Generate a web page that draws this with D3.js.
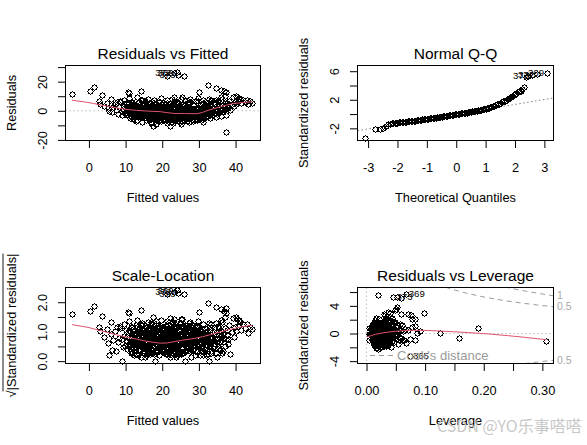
<!DOCTYPE html>
<html><head><meta charset="utf-8">
<script src="https://cdn.jsdelivr.net/npm/d3@7"></script>
<style>
body{margin:0;background:#fff}
svg{display:block;font-family:"Liberation Sans",Arial,sans-serif}
</style>
</head><body>
<svg id="c" width="587" height="445"></svg>
<script>
// ---------------- data ----------------
const sigma = 4.745;   // residual standard error of the model

const fitted = [
 23.9,23.3,24.4,26.0,21.2,37.4,-4.6,0.4,1.5,3.5,
 2.8,3.1,6.1,10.7,10.8,14.3,29.9,32.5,34.6,35.9,
 36.8,37.3,23.1,25.3,27.7,17.5,22.0,25.2,18.4,26.2,
 32.0,21.3,14.8,16.9,27.2,30.6,12.2,19.6,
 4.2,4.8,5.3,5.9,6.3,6.6,7.0,7.4,7.8,8.1,8.5,8.9,9.2,9.5,9.8,5.5,7.6,9.0,
 10.1,10.3,10.5,10.6,10.9,11.1,11.2,11.4,11.5,11.7,11.8,12.0,12.1,12.3,12.4,12.6,12.7,12.9,13.0,13.1,
 13.3,13.4,13.5,13.6,13.8,13.9,14.0,14.1,14.3,14.4,14.5,14.6,14.7,14.8,14.9,10.4,11.0,11.9,12.5,13.2,
 13.7,14.2,12.8,11.3,10.7,14.9,
 15.0,15.1,15.2,15.3,15.4,15.5,15.6,15.7,15.8,15.9,16.0,16.1,16.2,16.3,16.4,16.5,16.6,16.7,16.8,16.9,
 17.0,17.1,17.2,17.3,17.4,17.5,17.6,17.7,17.8,17.9,18.0,18.1,18.2,18.3,18.4,18.5,18.6,18.7,18.8,18.9,
 19.0,19.1,19.2,19.3,19.4,19.5,19.6,19.7,19.8,19.9,15.4,16.1,16.6,17.3,17.9,18.6,19.2,19.8,15.8,18.1,
 20.0,20.1,20.2,20.3,20.4,20.5,20.6,20.7,20.8,20.9,21.0,21.1,21.2,21.3,21.4,21.5,21.6,21.7,21.8,21.9,
 22.0,22.1,22.2,22.3,22.4,22.5,22.6,22.7,22.8,22.9,23.0,23.1,23.2,23.3,23.4,23.5,23.6,23.7,23.8,23.9,
 24.0,24.1,24.2,24.3,24.4,24.5,24.6,24.7,24.8,24.9,20.2,21.0,21.6,22.4,23.1,23.8,24.5,20.8,22.9,24.2,
 25.0,25.1,25.3,25.4,25.5,25.6,25.8,25.9,26.0,26.2,26.3,26.4,26.6,26.7,26.8,27.0,27.1,27.2,27.4,27.5,
 27.6,27.8,27.9,28.0,28.1,28.3,28.4,28.5,28.7,28.8,28.9,29.0,29.2,29.3,29.4,29.6,29.7,29.8,29.9,
 25.7,26.9,27.7,28.6,29.5,26.1,
 30.0,30.1,30.2,30.3,30.4,30.5,30.7,30.8,30.9,31.0,31.2,31.3,31.4,31.6,31.7,31.8,32.0,32.1,32.2,32.4,
 32.6,32.7,32.9,33.0,33.2,33.3,33.5,33.7,33.9,34.1,34.3,34.5,34.7,34.9,31.5,
 35.1,35.3,35.5,35.7,35.9,36.1,36.3,36.5,36.7,37.0,37.2,37.5,37.7,38.0,38.3,38.6,38.9,39.2,39.5,39.8,
 40.2,40.5,40.8,41.0,
 40.0,40.6,41.3,41.6,42.0,42.5,43.0,43.3,43.8,44.6,
 16.0,26.5,
 11.05,11.25,11.45,11.65,11.85,12.05,12.25,12.45,12.65,12.85,13.05,13.25,13.45,13.65,13.85,14.05,14.25,14.45,14.65,14.85,
 11.55,12.15,12.95,13.55,14.35,
 15.05,15.15,15.25,15.35,15.45,15.55,15.65,15.75,15.85,15.95,16.05,16.15,16.25,16.35,16.45,16.55,16.65,16.75,16.85,16.95,
 17.05,17.15,17.25,17.35,17.45,17.55,17.65,17.75,17.85,17.95,18.25,18.55,18.85,19.05,19.25,19.45,19.65,19.85,18.45,19.95,
 20.05,20.15,20.25,20.35,20.45,20.55,20.65,20.75,20.85,20.95,21.05,21.15,21.25,21.35,21.45,21.55,21.65,21.75,21.85,21.95,
 22.05,22.15,22.25,22.35,22.45,22.55,22.65,22.75,22.85,22.95,23.05,23.25,23.45,23.65,23.85,24.05,24.25,24.45,24.65,24.85,
 20.6,21.9,23.3,23.9,24.7,
 25.05,25.25,25.45,25.65,25.85,26.05,26.25,26.45,26.65,26.85,27.05,27.25,27.45,27.65,27.85,28.05,28.25,28.45,28.65,28.85,
 29.05,29.25,29.45,29.65,29.85,25.35,25.95,26.55,27.15,27.75,28.35,28.95,29.55,26.75,27.35,
 30.05,30.25,30.45,30.65,30.85,31.05,31.25,31.45,31.65,31.85,32.05,32.25,32.45,32.65,32.85,33.05,33.35,33.65,33.95,34.25,
 34.55,34.85,30.35,31.95,33.15,
 35.2,35.4,35.6,35.8,36.0,36.4,36.8,37.1,37.6,37.9,
 8.4,9.6,10.2,11.0,11.6,12.4,13.0,13.6,14.2,14.8,15.4,16.0,16.6,17.2,17.8,18.4,19.0,19.6,20.2,20.8,
 21.4,22.0,22.6,23.2,23.8,24.4,25.0,25.6,26.2,26.8,27.4,28.0,28.6,29.2,29.8,30.4,31.0,31.6,32.2,32.8,
 33.4,34.0,34.6,35.2,36.0,
 12.8,14.6,16.4,17.0,18.8,19.4,21.2,22.4,23.6,24.8,26.0,27.2,28.4,29.6,31.2
];

const residuals = [
 26.5,26.0,24.6,23.8,24.2,-14.8,11.8,13.4,16.5,10.8,
 6.4,5.0,8.0,12.9,12.4,13.6,13.0,18.0,15.9,14.5,
 13.6,12.6,9.5,9.3,8.4,-10.4,-10.2,-9.4,0.4,-2.8,
 3.3,-4.0,-3.6,-4.5,4.5,4.8,0.5,1.8,
 3.1,5.6,1.8,3.9,-0.7,2.4,4.9,0.6,-1.9,2.8,5.8,-2.6,1.1,3.5,-1.2,-0.2,6.3,0.0,
 2.2,-3.1,0.8,4.6,-1.5,1.9,-4.8,3.3,-0.4,6.1,-2.3,0.9,-5.6,2.7,-1.0,4.1,-3.4,0.3,1.6,-6.4,
 3.0,-2.0,5.2,-0.8,1.2,-4.1,2.4,-1.6,0.1,3.8,-3.0,7.2,-0.5,1.8,-5.2,-2.2,5.3,-1.7,1.1,-2.8,
 0.6,-2.6,2.1,-0.9,1.4,4.6,
 0.9,-3.4,2.6,-1.1,4.4,-6.1,0.2,-2.2,1.5,-0.6,3.3,-4.4,-1.4,0.7,5.6,-2.9,1.9,-0.3,-7.6,2.3,
 -1.8,0.4,3.7,-3.9,-0.9,1.2,-5.0,2.9,-1.5,0.0,4.8,-2.6,1.6,-0.7,-8.8,2.1,-3.2,0.5,6.4,-1.9,
 1.0,-4.7,-0.2,3.1,-2.4,0.8,-6.8,1.7,-1.2,4.0,-0.1,1.1,-5.3,2.4,-2.9,3.4,-3.6,2.6,-2.7,-5.7,
 -0.8,2.3,-3.3,0.5,-5.9,1.4,-1.7,3.9,-2.8,-0.3,1.8,-4.6,-1.1,5.4,-2.3,0.2,-7.2,1.0,-3.7,2.7,
 -1.4,-0.1,-5.1,3.4,-2.1,0.7,-3.0,1.9,-8.1,-0.6,4.3,-2.5,0.9,-4.2,-1.3,2.2,-6.3,0.1,-2.9,6.2,
 -1.0,1.3,-3.5,-0.4,2.8,-5.4,-1.8,0.6,3.6,-2.7,1.0,-6.6,3.0,-0.9,5.9,-4.8,0.3,-2.0,-3.8,1.9,
 -0.9,-4.3,1.7,-2.2,-6.7,0.4,-3.1,3.2,-1.5,-5.0,0.0,-2.6,2.5,-7.0,-1.2,-3.8,1.1,-2.0,5.1,-4.9,
 -0.6,-2.9,1.8,-5.8,-1.7,0.8,-3.4,3.9,-2.4,-6.2,-0.2,-3.9,2.0,-1.9,-5.4,0.6,-2.8,6.6,-4.0,
 -1.0,0.9,-3.3,-0.9,-1.4,7.2,
 -1.3,1.6,-4.4,-0.2,2.9,-2.5,-6.0,0.5,4.2,-3.1,-0.9,1.9,-4.9,0.8,-2.0,5.6,-1.1,2.4,-3.6,0.3,
 3.5,-2.3,1.2,-5.2,7.4,-0.4,2.1,-2.8,0.9,4.7,-1.6,2.6,-4.0,0.1,-0.5,
 3.0,-1.8,5.9,0.7,-3.5,2.3,8.2,-0.6,4.1,1.2,10.5,-2.7,5.3,2.5,7.0,0.3,4.6,9.8,3.1,6.2,
 10.2,9.6,9.1,8.5,
 4.8,6.9,8.0,5.2,7.3,6.1,7.3,4.4,6.5,5.4,
 -1.0,1.3,
 -1.2,1.5,-3.6,0.4,2.8,-2.1,-0.2,3.6,-4.3,1.0,-1.9,0.2,-3.0,2.2,-0.7,1.3,-4.6,-1.4,0.9,-2.4,
 -0.6,3.1,-1.1,1.7,-3.3,
 -2.0,0.6,-4.0,1.8,-0.9,-2.8,2.9,-1.3,0.3,-3.7,-0.5,2.0,-2.5,-5.4,0.9,-1.6,3.4,-3.1,-0.4,1.3,
 -2.2,-4.2,0.6,-1.0,2.5,-3.0,-0.3,1.4,-2.0,-4.5,-1.1,0.7,-2.9,-1.5,2.0,-3.9,-0.7,1.2,-6.0,-2.2,
 -2.4,-0.6,1.2,-3.9,-1.5,0.6,-4.4,-2.1,1.5,-3.1,-0.4,-2.6,0.8,-5.0,-1.7,2.1,-3.3,-0.9,-2.4,0.4,
 -4.0,-1.9,1.1,-3.6,-0.3,-2.7,-5.7,0.2,-1.6,-3.4,-0.8,-2.2,1.6,-4.0,-1.2,-2.9,0.3,-3.8,-1.5,-4.9,
 3.0,-6.0,-2.3,-0.2,2.3,
 -2.5,-0.3,-3.6,-1.8,0.6,-4.1,-2.3,-0.6,-3.4,1.2,-2.6,-5.1,-1.0,-3.0,-0.1,-2.2,-4.4,-1.3,0.9,-3.2,
 -1.9,-4.7,-0.5,-2.7,-1.2,-3.9,1.9,-5.9,-3.5,-1.4,-2.1,-4.6,-3.7,-2.0,-0.7,
 -2.6,-0.5,-3.8,1.1,-1.7,-4.3,0.2,-2.3,-0.8,-3.3,1.5,-1.4,-3.9,0.0,-2.0,1.8,-0.6,-3.1,2.2,-1.2,
 0.4,-2.3,-4.8,-0.2,3.0,
 0.8,3.7,-1.0,2.0,4.9,0.4,2.9,6.0,3.8,1.6,
 6.8,7.5,5.4,8.6,6.2,4.9,9.3,5.8,7.1,5.0,6.6,8.1,4.6,5.9,7.7,4.8,6.3,9.0,5.2,4.4,
 7.4,5.6,8.4,4.7,6.0,5.3,7.9,4.5,6.9,5.1,5.7,7.0,4.3,6.5,8.8,5.5,7.2,6.1,4.9,8.0,
 6.4,5.8,7.6,6.7,9.2,
 -6.9,-7.8,-6.5,-8.3,-7.1,-6.2,-8.6,-7.4,-6.8,-7.9,-6.4,-8.0,-7.2,-6.6,-7.5
];

const leverage = [
 0.067,0.019,0.046,0.058,0.052,0.074,0.035,0.030,0.050,0.040,
 0.028,0.020,0.045,0.071,0.076,0.098,0.058,0.052,0.048,0.036,
 0.040,0.032,0.078,0.082,0.030,0.020,0.017,0.024,0.125,0.158,
 0.190,0.307,0.074,0.083,0.078,0.082,0.086,0.092,
 0.021,0.034,0.012,0.045,0.018,0.027,0.009,0.039,0.024,0.015,0.052,0.030,0.011,0.022,0.041,0.017,0.028,0.006,0.036,0.020,
 0.026,0.013,0.048,0.019,0.031,0.010,0.023,0.057,0.016,0.029,0.014,0.038,0.021,0.008,0.033,0.025,0.044,0.012,0.027,0.018,
 0.035,0.022,0.015,0.061,0.024,0.011,0.030,0.019,0.042,0.026,0.004,0.032,0.017,0.050,0.023,0.014,0.037,0.020,0.028,0.013,
 0.046,0.025,0.016,0.031,0.007,0.040,0.022,0.018,0.034,0.012,0.027,0.055,0.019,0.024,0.010,0.036,0.029,0.015,0.043,0.021,
 0.017,0.032,0.013,0.026,0.049,0.020,0.009,0.038,0.023,0.015,0.030,0.066,0.018,0.025,0.011,0.035,0.022,0.014,0.041,0.028,
 0.019,0.033,0.012,0.024,0.053,0.016,0.029,0.008,0.037,0.021,0.026,0.014,0.044,0.018,0.031,0.010,0.023,0.059,0.017,0.027,
 0.036,0.013,0.022,0.047,0.019,0.030,0.011,0.025,0.039,0.016,0.028,0.009,0.034,0.020,0.062,0.015,0.024,0.042,0.018,0.031,
 0.012,0.026,0.051,0.021,0.014,0.033,0.023,0.007,0.040,0.017,0.029,0.045,0.020,0.011,0.035,0.024,0.016,0.056,0.027,0.013,
 0.032,0.019,0.043,0.025,0.010,0.030,0.018,0.048,0.022,0.014,0.037,0.026,0.005,0.033,0.021,0.068,0.016,0.028,0.012,0.039,
 0.023,0.046,0.015,0.031,0.020,0.011,0.035,0.027,0.054,0.018,0.024,0.013,0.041,0.029,0.017,0.034,0.008,0.022,0.050,0.026,
 0.015,0.038,0.021,0.012,0.030,0.058,0.019,0.025,0.044,0.016,0.032,0.010,0.027,0.036,0.020,0.014,0.047,0.023,0.029,0.011,
 0.034,0.018,0.064,0.024,0.013,0.040,0.021,0.028,0.016,0.052,0.026,0.004,0.031,0.019,0.037,0.022,0.045,0.015,0.030,0.012,
 0.025,0.043,0.017,0.033,0.010,0.028,0.071,0.020,0.036,0.014,0.024,0.049,0.018,0.030,0.011,0.039,0.022,0.027,0.016,0.035,
 0.021,0.013,0.046,0.026,0.019,0.032,0.060,0.015,0.024,0.038,0.012,0.029,0.020,0.042,0.017,0.033,0.025,0.055,0.014,0.023,
 0.018,0.031,0.010,0.027,0.043,0.022,0.015,0.036,0.025,0.012,0.048,0.020,0.029,0.016,0.039,0.023,0.011,0.033,0.026,0.019,
 0.016,0.022,0.011,0.028,0.019,0.014,0.025,0.009,0.031,0.018,0.021,0.013,0.027,0.017,0.023,0.012,0.034,0.020,0.015,0.026,
 0.019,0.024,0.010,0.029,0.016,0.021,0.013,0.032,0.018,0.025,0.011,0.022,0.015,0.027,0.020,0.008,0.030,0.017,0.023,0.014,
 0.026,0.012,0.020,0.035,0.017,0.023,0.010,0.028,0.015,0.019,0.024,0.013,0.031,0.018,0.021,0.009,0.027,0.016,0.022,0.012,
 0.020,0.029,0.014,0.018,0.025,0.011,0.033,0.017,0.022,0.015,0.028,0.019,0.010,0.024,0.016,0.030,0.021,0.013,0.026,0.018,
 0.023,0.015,0.031,0.012,0.019,0.027,0.016,0.022,0.009,0.025,0.018,0.033,0.014,0.020,0.029,0.011,0.024,0.017,0.021,0.026,
 0.013,0.028,0.019,0.016,0.024,0.010,0.030,0.018,0.022,0.014,0.026,0.017,0.032,0.012,0.020,0.025,0.015,0.023,0.011,0.027,
 0.018,0.021,0.012,0.034,0.016,0.026,0.020,0.014,0.029,0.017,0.023,0.010,0.025,0.019,0.031,0.015,0.022,0.013,0.028,0.016,
 0.024,0.011,0.020,0.027,0.015,0.032,0.018,0.022,0.013,0.029,0.017,0.025,0.009,0.021,0.016,0.030,0.019,0.023,0.012,0.026,
 0.017,0.028,0.014,0.022,0.019,0.031,0.011,0.024,0.016,0.027,0.020,0.013,0.033,0.018,0.025,0.015,0.021,0.029,0.012,0.023,
 0.024,0.031,0.018,0.042,0.027,0.015,0.036,0.022,0.029,0.012,0.034,0.020,0.026,0.045,0.017,0.030,0.023,0.039,0.014,0.028,
 0.033,0.019,0.041,0.025,0.021,0.016,0.037,0.027,0.032,0.013,0.024,0.048,0.020,0.035,0.029,0.018,0.043,0.026,0.022,0.038,
 0.015,0.030,0.040,0.023,0.034,
 0.019,0.027,0.014,0.033,0.022,0.017,0.029,0.012,0.024,0.036,0.020,0.015,0.031,0.026,0.018
];

// observation labels and their positions in the arrays above
const obsIds = {369:0, 372:1, 373:2, 365:5};
const fittedLabels = ["369","372","373"];
const leverageLabels = ["369","373","365"];

// smoothers (red lines)
const rvfSmoothX = [-4.6,-1,1.3,4,5.8,8,10.4,13,15.9,19.5,21,23.2,26,29.5,31,32.2,34,35.9,37.5,39.5,42,44.6];
const rvfSmoothY = [7.3,6.0,5.0,3.6,2.8,1.8,0.9,0.3,-0.2,-0.6,-1.2,-1.8,-1.9,-2.0,-1.1,0.1,1.4,2.8,3.9,5.0,5.7,6.2];
const slSmoothX = [-4.6,0,3,5.8,8,10.4,13,15,17.5,19.5,21.5,23.2,25.5,28.7,31,33.2,35.5,37.8,40,42,44.6];
const slSmoothY = [1.24,1.14,1.04,0.95,0.88,0.81,0.75,0.69,0.64,0.61,0.62,0.66,0.71,0.77,0.83,0.90,0.98,1.06,1.12,1.17,1.22];
const rvlSmoothX = [0.001,0.008,0.015,0.025,0.037,0.05,0.066,0.08,0.097,0.12,0.15,0.18,0.21,0.24,0.27,0.307];
const rvlSmoothY = [-0.5,-0.3,-0.12,0.05,0.2,0.33,0.42,0.46,0.46,0.38,0.25,0.1,-0.08,-0.3,-0.55,-0.9];

// Normal Q-Q points
const qqTheo = [-3.09,-2.75,-2.60,-2.49,-2.40,-2.33,-2.26,
 -2.20,-2.15,-2.10,-2.05,-2.00,-1.95,-1.90,-1.85,-1.80,-1.75,-1.70,-1.65,-1.60,-1.55,-1.50,-1.45,-1.40,-1.35,-1.30,-1.25,
 -1.20,-1.15,-1.10,-1.05,-1.00,-0.95,-0.90,-0.85,-0.80,-0.75,-0.70,-0.65,-0.60,-0.55,-0.50,-0.45,-0.40,-0.35,-0.30,-0.25,
 -0.20,-0.15,-0.10,-0.05,0.00,0.05,0.10,0.15,0.20,0.25,0.30,0.35,0.40,0.45,0.50,0.55,0.60,0.65,0.70,0.75,
 0.80,0.85,0.90,0.95,1.00,1.05,1.10,1.15,1.20,1.25,1.30,1.35,1.40,1.45,1.50,1.55,1.60,1.65,1.70,1.75,
 1.80,1.85,1.90,1.95,2.00,2.05,2.10,2.15,2.20,2.25,2.30,
 2.38,2.45,2.58,2.75,3.09];
const qqSample = [-3.30,-2.13,-2.10,-1.99,-1.60,-1.45,-1.33,
 -1.30,-1.27,-1.25,-1.22,-1.20,-1.17,-1.15,-1.12,-1.09,-1.07,-1.05,-1.02,-1.00,-0.98,-0.96,-0.93,-0.90,-0.87,-0.84,-0.81,
 -0.78,-0.75,-0.72,-0.70,-0.67,-0.64,-0.61,-0.58,-0.55,-0.52,-0.49,-0.45,-0.42,-0.39,-0.36,-0.33,-0.29,-0.26,-0.22,-0.19,
 -0.15,-0.12,-0.09,-0.05,-0.02,0.02,0.05,0.08,0.12,0.15,0.19,0.22,0.26,0.29,0.33,0.37,0.41,0.45,0.48,0.52,
 0.57,0.61,0.66,0.70,0.75,0.81,0.88,0.95,1.02,1.10,1.18,1.27,1.36,1.46,1.56,1.67,1.78,1.90,2.02,2.16,
 2.30,2.44,2.58,2.70,2.82,2.93,3.05,3.17,3.30,3.52,3.80,
 5.15,5.30,5.45,5.58,5.74];
const qqLabels = ["373","372","369"];   // last three points
const qqLineIntercept = -0.02, qqLineSlope = 0.687;

// Cook's distance contours (leverage, +/- standardized residual)
const cookLev  = [0.12,0.13,0.14,0.15,0.17,0.19,0.21,0.23,0.25,0.27,0.29,0.31,0.325];
const cookHalf = [7.16,6.84,6.56,6.30,5.85,5.46,5.13,4.84,4.58,4.35,4.14,3.95,3.81];
const cookOne  = [10.1,9.68,9.28,8.91,8.27,7.72,7.26,6.85,6.48,6.15,5.86,5.58,5.39];
const cookTags = ["1","0.5","0.5"];

// axis ticks and labels
const fitTicks = [0,10,20,30,40], fitTickLabels = ["0","10","20","30","40"];
const rvfYTicks = [-20,-10,0,10,20,30], rvfYLabels = ["-20","","0","","20",""];
const qqXTicks = [-3,-2,-1,0,1,2,3], qqXLabels = ["-3","-2","-1","0","1","2","3"];
const qqYTicks = [-2,0,2,4,6], qqYLabels = ["-2","","2","","6"];
const slYTicks = [0,0.5,1,1.5,2], slYLabels = ["0.0","","1.0","","2.0"];
const levXTicks = [0,0.05,0.10,0.15,0.20,0.25,0.30], levXLabels = ["0.00","","0.10","","0.20","","0.30"];
const levYTicks = [-4,-2,0,2,4,6], levYLabels = ["-4","","0","","4",""];

// ---------------- drawing ----------------
const svg = d3.select("#c");
svg.append("rect").attr("width",587).attr("height",445).attr("fill","#fff");
const RED = "#DF536B", GRAY = "#BEBEBE";
const n = Math.min(fitted.length, residuals.length, leverage.length);
const obs = d3.range(n).map(i => {
  const std = residuals[i] / (sigma * Math.sqrt(1 - leverage[i]));
  return {f: fitted[i], r: residuals[i], h: leverage[i], std, sl: Math.sqrt(Math.abs(std))};
});

function panel(c) {
  const x = d3.scaleLinear().domain(c.xd).range([c.x0, c.x1]);
  const y = d3.scaleLinear().domain(c.yd).range([c.y1, c.y0]);
  const g = svg.append("g");
  svg.append("clipPath").attr("id", "clip" + c.id).append("rect")
    .attr("x", c.x0).attr("y", c.y0).attr("width", c.x1 - c.x0).attr("height", c.y1 - c.y0);
  g.append("text").attr("x", (c.x0 + c.x1) / 2).attr("y", c.y0 - 7)
    .attr("text-anchor", "middle").style("font-size", "15.5px").text(c.title);
  const gx = g.append("g").attr("transform", `translate(0,${c.y1})`)
    .call(d3.axisBottom(x).tickValues(c.xt).tickSize(7.5).tickFormat((d, i) => c.xl[i]));
  gx.select(".domain").remove();
  gx.attr("font-size", null).attr("font-family", null);
  gx.selectAll("line").attr("stroke", "#000");
  gx.selectAll("text").attr("y", 31.5).attr("dy", null).attr("fill", "#000").style("font-size", "12.8px");
  const gy = g.append("g").attr("transform", `translate(${c.x0},0)`)
    .call(d3.axisLeft(y).tickValues(c.yt).tickSize(7.5).tickFormat((d, i) => c.yl[i]));
  gy.select(".domain").remove();
  gy.attr("font-size", null).attr("font-family", null);
  gy.selectAll("line").attr("stroke", "#000");
  gy.selectAll("text").attr("x", null).attr("dy", null).attr("text-anchor", "middle")
    .attr("transform", "translate(-19,0) rotate(-90)").attr("fill", "#000").style("font-size", "12.8px");
  g.append("text").attr("x", (c.x0 + c.x1) / 2).attr("y", c.y1 + 61.5)
    .attr("text-anchor", "middle").style("font-size", "12.8px").text(c.xlab);
  const yt = g.append("text").attr("transform", `translate(${c.x0 - 50},${(c.y0 + c.y1) / 2}) rotate(-90)`)
    .attr("text-anchor", "middle").style("font-size", "12.8px").text(c.ylab);
  const plot = g.append("g");
  g.append("rect").attr("x", c.x0).attr("y", c.y0).attr("width", c.x1 - c.x0)
    .attr("height", c.y1 - c.y0).attr("fill", "none").attr("stroke", "#000");
  return {x, y, g, plot, yt};
}

function dotted(p, x1, y1, x2, y2, col, clipId) {
  p.plot.append("line").attr("x1", x1).attr("y1", y1).attr("x2", x2).attr("y2", y2)
    .attr("stroke", col).attr("stroke-dasharray", "1.5,2.5").attr("clip-path", `url(#${clipId})`);
}
function points(p, data, fx, fy) {
  p.plot.append("g").attr("shape-rendering", "crispEdges").selectAll("circle").data(data).join("circle")
    .attr("cx", d => Math.round(p.x(fx(d))) + 0.5).attr("cy", d => Math.round(p.y(fy(d))) + 0.5).attr("r", 2.6)
    .attr("fill", "none").attr("stroke", "#000").attr("stroke-width", 1);
}
function smooth(p, xs, ys) {
  p.plot.append("path").datum(d3.range(xs.length))
    .attr("d", d3.line().x(i => p.x(xs[i])).y(i => p.y(ys[i])))
    .attr("fill", "none").attr("stroke", RED).attr("stroke-width", 1);
}
function label(p, xv, yv, txt, side) {
  p.plot.append("text").attr("x", p.x(xv) + (side === "left" ? -3 : 3)).attr("y", p.y(yv)).attr("dy", "0.35em")
    .attr("text-anchor", side === "left" ? "end" : "start").style("font-size", "9.6px").text(txt);
}

// Panel 1: Residuals vs Fitted
const p1 = panel({id: 1, x0: 65.5, x1: 260.5, y0: 65.5, y1: 140.5, xd: [-6.39, 46.8], yd: [-20.4, 31.1],
  xt: fitTicks, xl: fitTickLabels, yt: rvfYTicks, yl: rvfYLabels,
  title: "Residuals vs Fitted", xlab: "Fitted values", ylab: "Residuals"});
dotted(p1, 65.5, p1.y(0), 260.5, p1.y(0), GRAY, "clip1");
points(p1, obs, d => d.f, d => d.r);
smooth(p1, rvfSmoothX, rvfSmoothY);
fittedLabels.forEach(t => { const o = obs[obsIds[t]]; label(p1, o.f, o.r, t, "left"); });

// Panel 2: Normal Q-Q
const p2 = panel({id: 2, x0: 357.5, x1: 553.5, y0: 65.5, y1: 140.5, xd: [-3.36, 3.31], yd: [-3.7, 6.8],
  xt: qqXTicks, xl: qqXLabels, yt: qqYTicks, yl: qqYLabels,
  title: "Normal Q-Q", xlab: "Theoretical Quantiles", ylab: "Standardized residuals"});
dotted(p2, p2.x(-3.36), p2.y(qqLineIntercept + qqLineSlope * -3.36), p2.x(3.31), p2.y(qqLineIntercept + qqLineSlope * 3.31), "#808080", "clip2");
points(p2, d3.range(qqTheo.length), i => qqTheo[i], i => qqSample[i]);
qqLabels.forEach((t, k) => { const i = qqTheo.length - 3 + k; label(p2, qqTheo[i], qqSample[i], t, "left"); });

// Panel 3: Scale-Location
const p3 = panel({id: 3, x0: 65.5, x1: 260.5, y0: 287.5, y1: 363.5, xd: [-6.39, 46.8], yd: [-0.08, 2.5],
  xt: fitTicks, xl: fitTickLabels, yt: slYTicks, yl: slYLabels,
  title: "Scale-Location", xlab: "Fitted values", ylab: "√|Standardized residuals|"});
points(p3, obs, d => d.f, d => d.sl);
smooth(p3, slSmoothX, slSmoothY);
fittedLabels.forEach(t => { const o = obs[obsIds[t]]; label(p3, o.f, o.sl, t, "left"); });
{ // overbar of the square root
  const node = p3.yt.node();
  const L = node.getComputedTextLength();
  const wr = node.getSubStringLength(0, 1);
  const cx = 65.5 - 50, cy = (287.5 + 363.5) / 2;
  p3.g.append("line").attr("x1", cx - 12.5).attr("x2", cx - 12.5)
    .attr("y1", cy + L / 2 - wr * 0.85).attr("y2", cy - L / 2).attr("stroke", "#000").attr("stroke-width", 0.9);
}

// Panel 4: Residuals vs Leverage
const p4 = panel({id: 4, x0: 357.5, x1: 553.5, y0: 287.5, y1: 363.5, xd: [-0.0154, 0.319], yd: [-4.34, 6.66],
  xt: levXTicks, xl: levXLabels, yt: levYTicks, yl: levYLabels,
  title: "Residuals vs Leverage", xlab: "Leverage", ylab: "Standardized residuals"});
dotted(p4, 357.5, p4.y(0), 553.5, p4.y(0), GRAY, "clip4");
dotted(p4, p4.x(0), 287.5, p4.x(0), 363.5, GRAY, "clip4");
const cookLine = (ys, sgn) => p4.plot.append("path").datum(d3.range(cookLev.length))
  .attr("d", d3.line().x(i => p4.x(cookLev[i])).y(i => p4.y(sgn * ys[i])))
  .attr("fill", "none").attr("stroke", "#9a9a9a").attr("stroke-dasharray", "5,4").attr("clip-path", "url(#clip4)");
cookLine(cookOne, 1); cookLine(cookHalf, 1); cookLine(cookHalf, -1); cookLine(cookOne, -1);
points(p4, obs, d => d.h, d => d.std);
smooth(p4, rvlSmoothX, rvlSmoothY);
leverageLabels.forEach(t => { const o = obs[obsIds[t]]; label(p4, o.h, o.std, t, "right"); });
const lastI = cookLev.length - 2;
[[cookOne[lastI], cookTags[0]], [cookHalf[lastI], cookTags[1]], [-cookHalf[lastI], cookTags[2]]].forEach(([v, t]) => {
  svg.append("text").attr("x", 557).attr("y", p4.y(v)).attr("dy", "0.35em").attr("fill", "#a8a8a8")
    .style("font-size", "10.5px").text(t);
});
p4.g.append("line").attr("x1", 370).attr("x2", 393).attr("y1", 355.5).attr("y2", 355.5)
  .attr("stroke", "#9a9a9a").attr("stroke-dasharray", "5,4");
p4.g.append("text").attr("x", 397).attr("y", 360).attr("fill", "#9a9a9a").style("font-size", "13px").text("Cook's distance");

// watermark
svg.append("text").attr("x", 437).attr("y", 432).attr("fill", "#bdbdbd").attr("fill-opacity", 0.85)
  .style("font-family", "'Noto Sans CJK SC',sans-serif").style("font-size", "16px").text("CSDN @YO乐事嗒嗒");
</script>
</body></html>
